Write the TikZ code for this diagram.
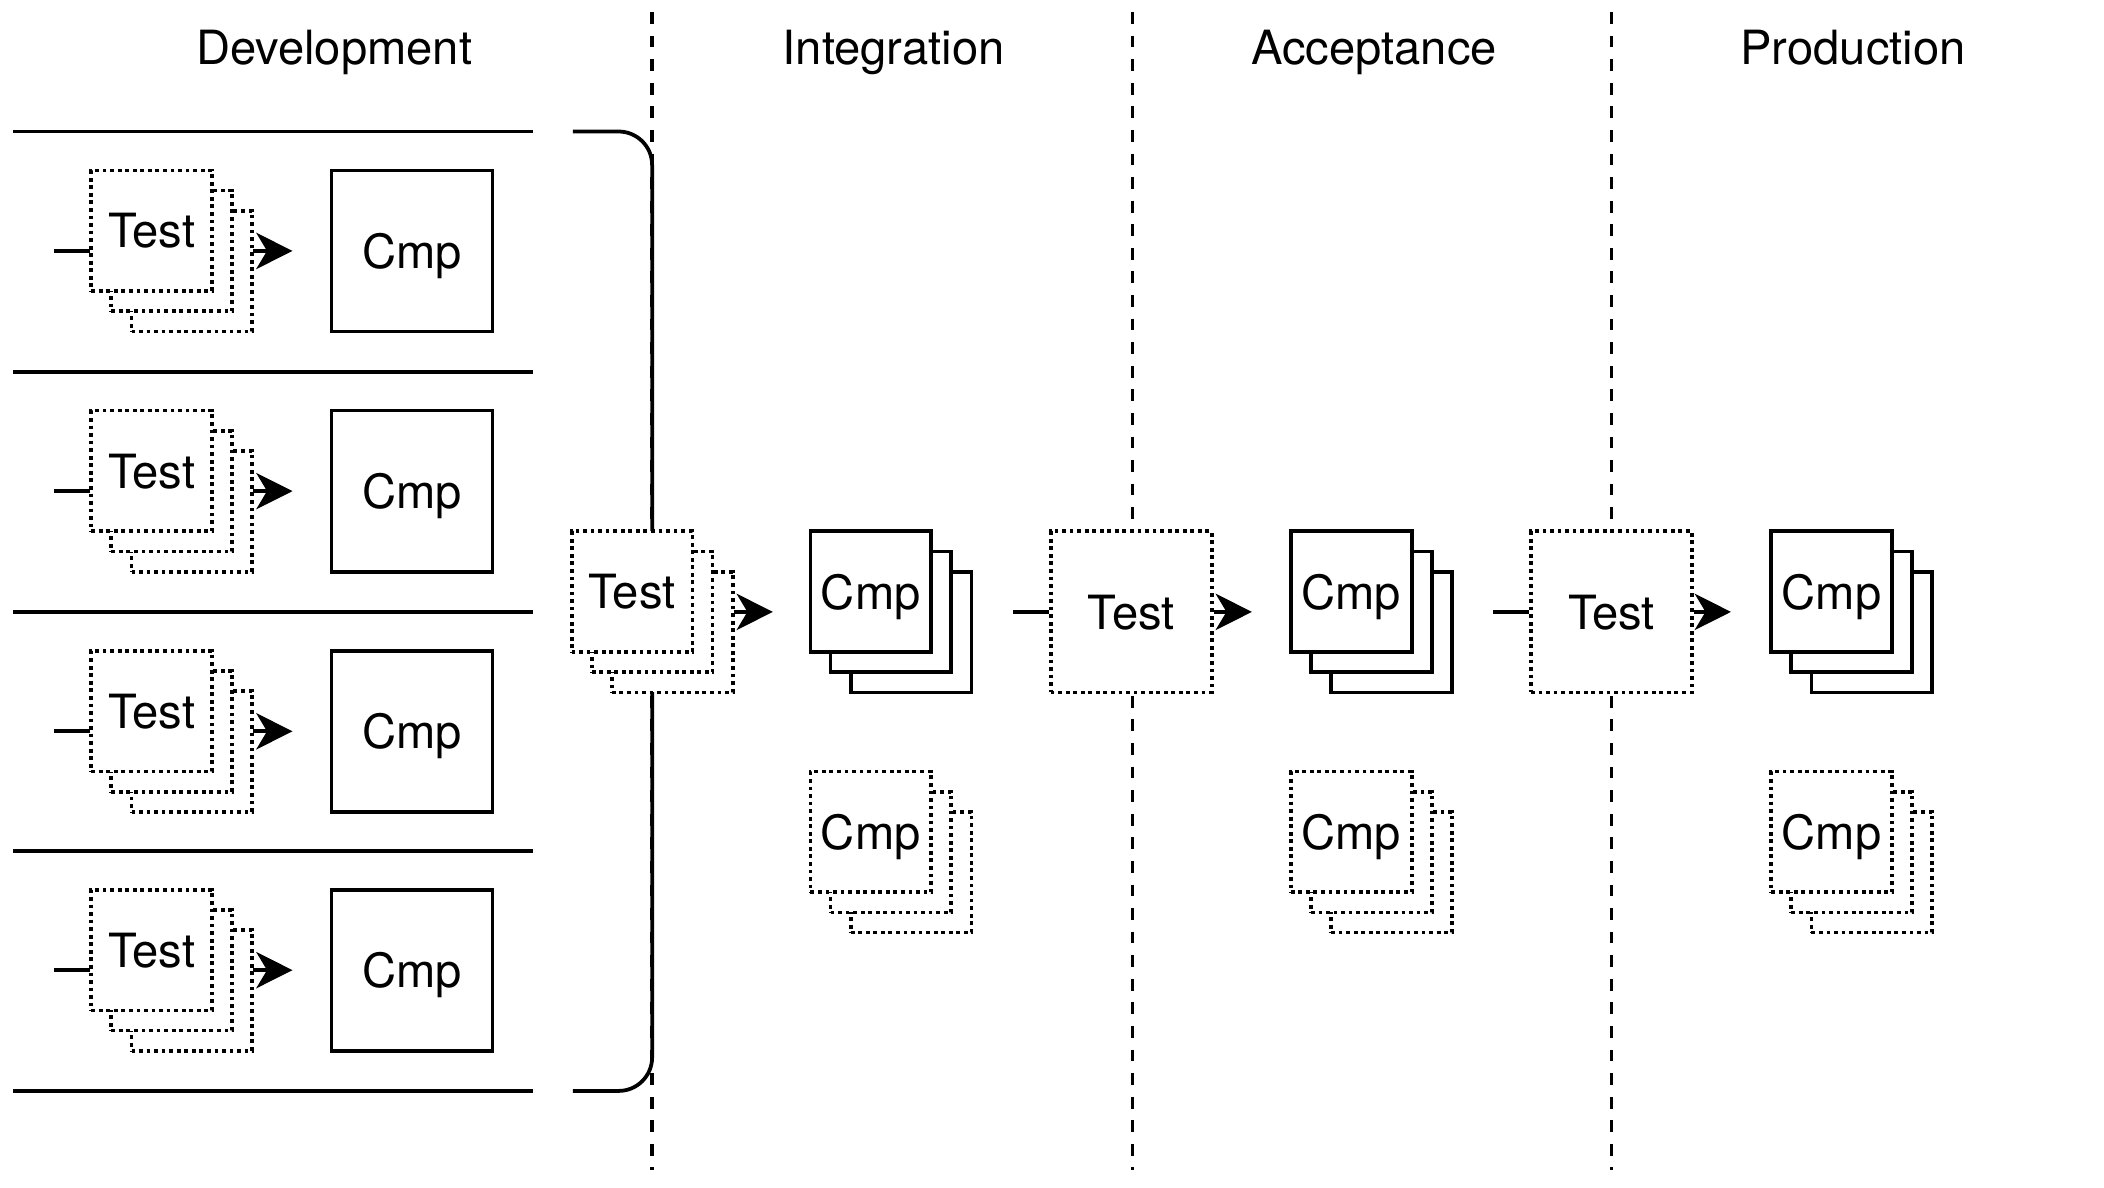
\documentclass[tikz,border=0pt]{standalone}
\usepackage{fontspec}
\setmainfont{TeX Gyre Heros}
\usetikzlibrary{arrows.meta,positioning}

\tikzset{
    wire/.style={line width=0.8pt},
    tip/.style={wire, -{Stealth[length=2.7mm, width=2.7mm, inset=0.8mm]}},
    solidbox/.style={draw, line width=0.8pt, fill=white, inner sep=0pt, text depth=0pt, font=\fontsize{10}{12}\selectfont},
    dotbox/.style={solidbox, dash pattern=on 0.8pt off 0.8pt},
    lane/.style={line width=0.8pt, dash pattern=on 2.5pt off 2.5pt},
    title/.style={anchor=base, font=\fontsize{10}{12}\selectfont}
}

\newcommand{\pile}[5]{
    \node[#4, minimum size=9mm] (#1-c) at (#2+15,#3+15) {};
    \node[#4, minimum size=9mm] (#1-b) at (#2,#3) {};
    \node[#4, minimum size=9mm] (#1-a) at (#2-15,#3-15) {#5};
    \node[minimum size=12mm, inner sep=0pt] (#1) at (#2,#3) {};
}

\begin{document}
\begin{tikzpicture}[x=0.1mm, y=-0.1mm]

        \fill[white] (0,0) rectangle (1568,885);

        \node[title] (dev) at (249,48) {Development};
        \node[title] (int) at (666,48) {Integration};
        \node[title] (acc) at (1024,48) {Acceptance};
        \node[title] (prod) at (1381,48) {Production};

        \foreach \x in {486,844,1201}
            \draw[lane] (\x,9) -- (\x,872);

        \foreach \y in {98,277,456,634,813}
            \draw[wire] (10,\y) -- (397,\y);

        \foreach \i/\y in {1/187,2/366,3/545,4/723} {
            \pile{dtest\i}{128}{\y}{dotbox}{Test}
            \node[solidbox, minimum size=12mm] (dcmp\i) at (307,\y) {Cmp};
            \coordinate (din\i) at (40,\y);
            \coordinate (dout\i) at (218,\y);
            \draw[wire] (din\i) -- (dtest\i.west);
            \draw[tip] (dtest\i.east) -- (dout\i);
        }

        \coordinate (btop) at (427,98);
        \coordinate (bbot) at (427,813);
        \coordinate (bmid) at (486,456);
        \draw[wire, rounded corners=2.5mm] (btop) -| (bmid) |- (bbot);

        \pile{itest}{486}{456}{dotbox}{Test}
        \coordinate (iout) at (576,456);
        \draw[tip] (itest.east) -- (iout);

        \pile{icmp}{664}{456}{solidbox}{Cmp}
        \pile{icmpx}{664}{635}{dotbox}{Cmp}

        \coordinate (ain) at (755,456);
        \node[dotbox, minimum size=12mm] (atest) at (843,456) {Test};
        \coordinate (aout) at (933,456);
        \draw[wire] (ain) -- (atest.west);
        \draw[tip] (atest.east) -- (aout);

        \pile{acmp}{1022}{456}{solidbox}{Cmp}
        \pile{acmpx}{1022}{635}{dotbox}{Cmp}

        \coordinate (pin) at (1113,456);
        \node[dotbox, minimum size=12mm] (ptest) at (1201,456) {Test};
        \coordinate (pout) at (1290,456);
        \draw[wire] (pin) -- (ptest.west);
        \draw[tip] (ptest.east) -- (pout);

        \pile{pcmp}{1380}{456}{solidbox}{Cmp}
        \pile{pcmpx}{1380}{635}{dotbox}{Cmp}

    \end{tikzpicture}
\end{document}
